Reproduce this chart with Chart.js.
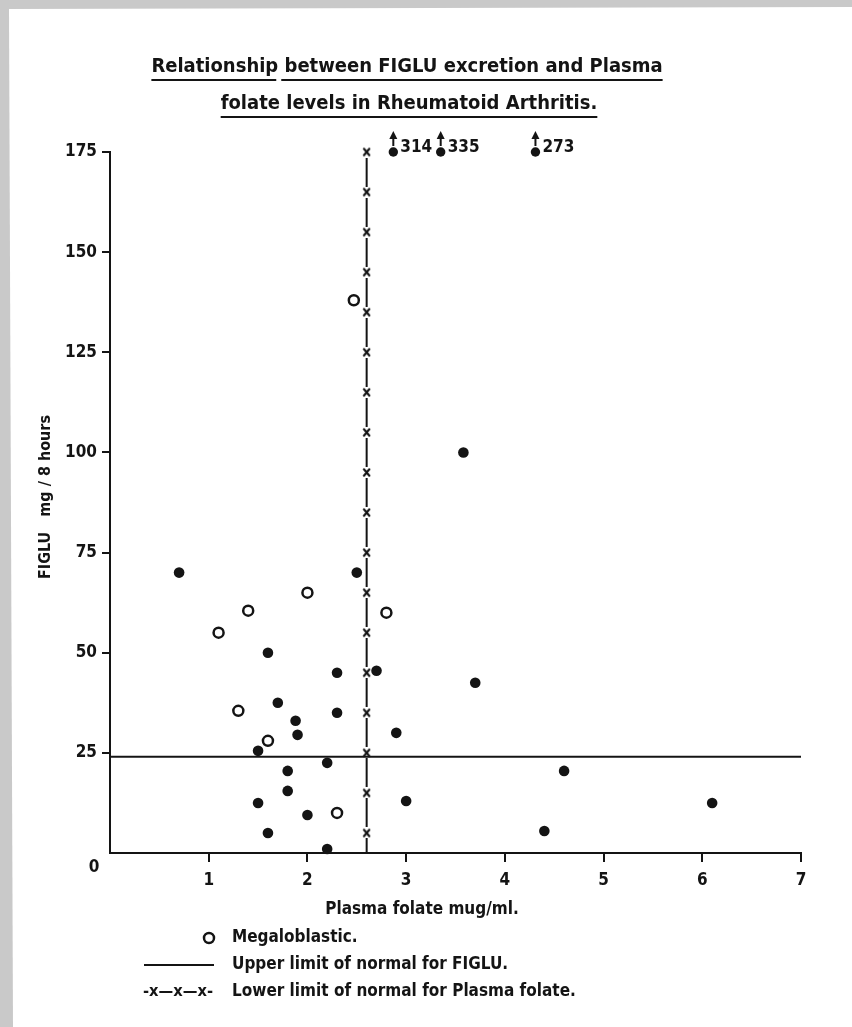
<!DOCTYPE html>
<html><head><meta charset="utf-8">
<script src="https://cdn.jsdelivr.net/npm/chart.js@4.4.0/dist/chart.umd.min.js"></script>
<style>html,body{margin:0;padding:0;background:#c8c8c8;}canvas{display:block;}</style>
</head><body>
<canvas id="c" width="852" height="1027"></canvas>
<script>
// ---------- data ----------
const titleLine1 = "Relationship between FIGLU excretion and Plasma";
const titleLine2 = "folate levels in Rheumatoid Arthritis.";
const xAxisTitle = "Plasma folate mug/ml.";
const yAxisTitle = "FIGLU   mg / 8 hours";
const xTickValues = [1, 2, 3, 4, 5, 6, 7];
const yTickValues = [25, 50, 75, 100, 125, 150, 175];

// non-megaloblastic patients (filled dots)
const normalFolate = [0.7, 2.5, 1.6, 2.3, 2.7, 1.7, 2.3, 1.88, 1.9, 2.9, 1.5, 2.2, 1.8, 1.8, 1.5, 3.0, 2.0, 1.6, 2.2, 3.58, 3.7, 4.6, 6.1, 4.4];
const normalFiglu  = [70, 70, 50, 45, 45.5, 37.5, 35, 33, 29.5, 30, 25.5, 22.5, 20.5, 15.5, 12.5, 13, 9.5, 5, 1, 100, 42.5, 20.5, 12.5, 5.5];

// megaloblastic patients (open circles)
const megaFolate = [2.47, 2.0, 1.4, 2.8, 1.1, 1.3, 1.6, 2.3];
const megaFiglu  = [138, 65, 60.5, 60, 55, 35.5, 28, 10];

// off-scale values (plotted at top with arrows)
const offFolate = [2.87, 3.35, 4.31];
const offFiglu  = [314, 335, 273];

// reference lines
const figluUpperLimit = 24;
const folateLowerLimit = 2.6;
const folateLimitMarks = [0, 5, 15, 25, 35, 45, 55, 65, 75, 85, 95, 105, 115, 125, 135, 145, 155, 165, 175];

const legendItems = ["Megaloblastic.", "Upper limit of normal for FIGLU.", "Lower limit of normal for Plasma folate."];

// ---------- chart ----------
const FONT = '"Liberation Sans Narrow","DejaVu Sans Condensed","Arial Narrow",sans-serif';
const INK = '#141414';
const X_MIN = 0, X_MAX = 7, Y_MIN = 0, Y_MAX = 175;

const pts = (xs, ys) => xs.map((x, i) => ({x, y: ys[i]}));

// small "x" mark with white backing, so the line shows a gap at each mark
function makeXMark() {
  const cv = document.createElement('canvas');
  cv.width = 9; cv.height = 11;
  const c = cv.getContext('2d');
  c.fillStyle = '#fff';
  c.fillRect(0, 0, 9, 11);
  c.strokeStyle = INK; c.lineWidth = 2.1; c.lineCap = 'round';
  c.beginPath();
  c.moveTo(1.8, 2.3); c.lineTo(7.2, 8.7);
  c.moveTo(7.2, 2.3); c.lineTo(1.8, 8.7);
  c.stroke();
  return cv;
}
const xMark = makeXMark();

const paperPlugin = {
  id: 'paper',
  beforeDraw(chart) {
    const c = chart.ctx;
    c.save();
    c.fillStyle = '#c9c9c9';
    c.fillRect(0, 0, chart.width, chart.height);
    c.fillStyle = '#ffffff';
    c.beginPath();
    c.moveTo(9, 9); c.lineTo(852, 7); c.lineTo(852, 1027); c.lineTo(13, 1027);
    c.closePath(); c.fill();
    c.restore();
  }
};

const decorPlugin = {
  id: 'decor',
  afterDraw(chart) {
    const c = chart.ctx;
    const xs = chart.scales.x, ys = chart.scales.y;
    c.save();
    c.fillStyle = INK; c.strokeStyle = INK;
    // titles
    c.font = 'bold 20px ' + FONT;
    c.textAlign = 'center'; c.textBaseline = 'middle';
    const cx = 407;
    const w1 = c.measureText(titleLine1).width;
    c.fillText(titleLine1, cx, 67);
    const left1 = cx - w1 / 2;
    const wRel = c.measureText("Relationship").width;
    c.lineWidth = 2.2;
    c.beginPath();
    c.moveTo(left1, 80); c.lineTo(left1 + wRel - 2, 80);
    c.moveTo(left1 + wRel + 3, 80); c.lineTo(left1 + w1, 80);
    c.stroke();
    const w2 = c.measureText(titleLine2).width;
    c.fillText(titleLine2, cx + 2, 104);
    c.beginPath();
    c.moveTo(cx + 2 - w2 / 2, 117); c.lineTo(cx + 2 + w2 / 2, 117);
    c.stroke();

    // "0" corner label
    c.font = 'bold 17px ' + FONT;
    c.textAlign = 'center';
    c.fillText('0', xs.getPixelForValue(0) - 16, ys.getPixelForValue(0) + 15);

    // x axis title
    c.fillText(xAxisTitle, 422, 910);

    // y axis title
    c.save();
    c.translate(46, 497);
    c.rotate(-Math.PI / 2);
    c.font = 'bold 16px ' + FONT;
    c.fillText(yAxisTitle, 0, 0);
    c.restore();

    // off-scale arrows and labels
    const meta = chart.getDatasetMeta(2);
    meta.data.forEach((el, i) => {
      const px = el.x, py = el.y - 2;
      c.lineWidth = 2;
      c.beginPath();
      c.moveTo(px, py - 4); c.lineTo(px, py - 14);
      c.stroke();
      c.beginPath();
      c.moveTo(px, py - 19); c.lineTo(px - 4, py - 11); c.lineTo(px + 4, py - 11); c.closePath();
      c.fill();
      c.font = 'bold 17px ' + FONT;
      c.textAlign = 'left';
      c.fillText(String(offFiglu[i]), px + 7, py - 2);
    });

    // legend
    c.font = 'bold 17px ' + FONT;
    c.textAlign = 'left';
    c.lineWidth = 2.5;
    c.beginPath(); c.arc(209, 938, 5, 0, Math.PI * 2); c.stroke();
    c.fillText(legendItems[0], 232, 938);
    c.lineWidth = 2;
    c.beginPath(); c.moveTo(144, 965); c.lineTo(214, 965); c.stroke();
    c.fillText(legendItems[1], 232, 965);
    // "-x—x—x-" symbol stretched to 70 px
    c.font = 'bold 15px ' + FONT;
    const sym = '-x\u2014x\u2014x-';
    const sw = c.measureText(sym).width;
    c.save();
    c.translate(143, 992);
    c.scale(70 / sw, 1);
    c.fillText(sym, 0, 0);
    c.restore();
    c.font = 'bold 17px ' + FONT;
    c.fillText(legendItems[2], 232, 992);
    c.restore();
  }
};

const tickColor = ctx => (ctx.tick && ctx.tick.value === 0) ? 'rgba(0,0,0,0)' : INK;

new Chart(document.getElementById('c'), {
  type: 'scatter',
  data: {
    datasets: [
      { label: 'normal', data: pts(normalFolate, normalFiglu), pointRadius: 5.3, pointBackgroundColor: INK, pointBorderColor: INK, pointBorderWidth: 0, clip: false },
      { label: 'megaloblastic', data: pts(megaFolate, megaFiglu), pointRadius: 5, pointBackgroundColor: '#ffffff', pointBorderColor: INK, pointBorderWidth: 2.5, clip: false },
      { label: 'offscale', data: offFolate.map((x, i) => ({x, y: Math.min(offFiglu[i], Y_MAX)})), pointRadius: 4.7, pointBackgroundColor: INK, pointBorderColor: INK, pointBorderWidth: 0, clip: false },
      { type: 'line', label: 'upper FIGLU', data: [{x: X_MIN, y: figluUpperLimit}, {x: X_MAX, y: figluUpperLimit}], borderColor: INK, borderWidth: 2, pointRadius: 0, clip: false },
      { type: 'line', label: 'lower folate', data: folateLimitMarks.map(y => ({x: folateLowerLimit, y})), borderColor: INK, borderWidth: 2, pointStyle: xMark, pointRadius: ctx => (ctx.raw && ctx.raw.y === 0) ? 0 : 5, clip: false }
    ]
  },
  options: {
    responsive: false, animation: false, devicePixelRatio: 1,
    layout: { padding: { left: 0, right: 51, top: 152, bottom: 0 } },
    plugins: { legend: { display: false }, title: { display: false }, tooltip: { enabled: false } },
    scales: {
      x: {
        type: 'linear', min: X_MIN, max: X_MAX, position: 'bottom',
        afterFit(s) { s.height = 1027 - 853; },
        afterBuildTicks(s) { s.ticks = [0].concat(xTickValues).map(v => ({value: v})); },
        ticks: { color: INK, font: { family: FONT, size: 17, weight: 'bold' }, padding: 8, maxRotation: 0, callback: v => v === 0 ? '' : String(v) },
        grid: { drawOnChartArea: false, drawTicks: true, tickLength: 9, color: tickColor, lineWidth: 2 },
        border: { display: true, color: INK, width: 2 }
      },
      y: {
        type: 'linear', min: Y_MIN, max: Y_MAX,
        afterFit(s) { s.width = 110; },
        afterBuildTicks(s) { s.ticks = [0].concat(yTickValues).map(v => ({value: v})); },
        ticks: { color: INK, font: { family: FONT, size: 17, weight: 'bold' }, padding: 5, callback: v => v === 0 ? '' : String(v) },
        grid: { drawOnChartArea: false, drawTicks: true, tickLength: 8, color: tickColor, lineWidth: 2 },
        border: { display: true, color: INK, width: 2 }
      }
    }
  },
  plugins: [paperPlugin, decorPlugin]
});
</script>
</body></html>
